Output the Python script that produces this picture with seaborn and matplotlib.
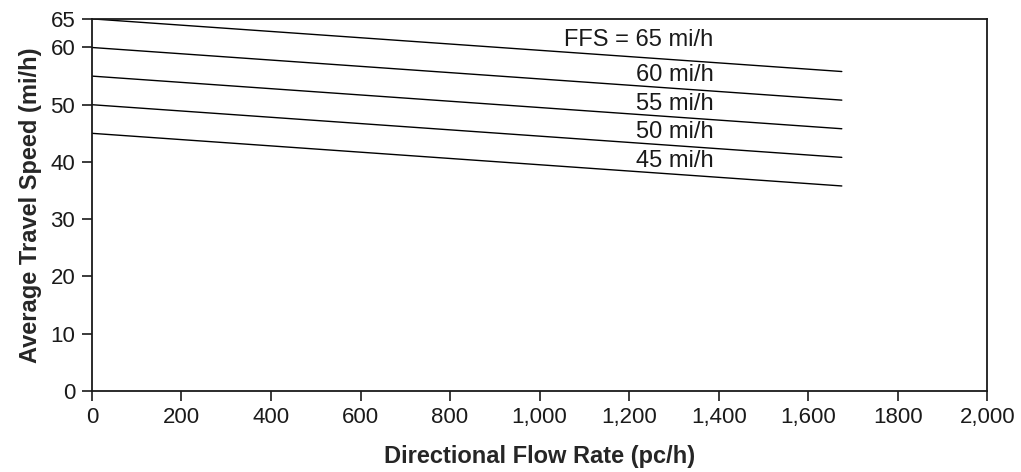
import matplotlib
matplotlib.use("Agg")
import matplotlib.pyplot as plt
import seaborn as sns
import pandas as pd
import numpy as np

# Free-flow speed curves (mi/h): start at flow 0, end at flow ~1675 pc/h
ffs = [65, 60, 55, 50, 45]
flow_pts = [0, 1675]
speed_end = [55.8, 50.8, 45.8, 40.8, 35.8]
labels = ["FFS = 65 mi/h", "60 mi/h", "55 mi/h", "50 mi/h", "45 mi/h"]

xticks = [0, 200, 400, 600, 800, 1000, 1200, 1400, 1600, 1800, 2000]
xtick_labels = ["0", "200", "400", "600", "800", "1,000", "1,200", "1,400",
                "1,600", "1800", "2,000"]
yticks = [0, 10, 20, 30, 40, 50, 60, 65]

rows = []
for f, e in zip(ffs, speed_end):
    rows.append({"ffs": f, "flow": flow_pts[0], "speed": f})
    rows.append({"ffs": f, "flow": flow_pts[1], "speed": e})
df = pd.DataFrame(rows)

sns.set_style("ticks")
plt.rcParams["font.family"] = ["Liberation Sans", "DejaVu Sans"]

fig = plt.figure(figsize=(10.21, 4.72), dpi=100)
ax = fig.add_axes([0.090, 0.172, 0.877, 0.788])

sns.lineplot(data=df, x="flow", y="speed", units="ffs", estimator=None,
             color="black", linewidth=1.0, ax=ax)

# curve labels, sitting just above each line
lab_x = 1388
for f, e, t in zip(ffs, speed_end, labels):
    y_line = np.interp(lab_x, flow_pts, [f, e])
    off = 3.9 if t.startswith("FFS") else 2.8
    ax.text(lab_x, y_line + off, t, ha="right", va="center", fontsize=17,
            color="#1a1a1a")

ax.set_xlim(0, 2000)
ax.set_ylim(0, 65)
ax.set_xticks(xticks)
ax.set_xticklabels(xtick_labels)
ax.set_yticks(yticks)
ax.tick_params(labelsize=16, length=7, width=1.2, colors="#1a1a1a", pad=5)
for s in ax.spines.values():
    s.set_linewidth(1.3)
    s.set_color("#1a1a1a")

ax.set_xlabel("Directional Flow Rate (pc/h)", fontsize=17, fontweight="bold",
              labelpad=12)
ax.set_ylabel("Average Travel Speed (mi/h)", fontsize=17, fontweight="bold",
              labelpad=6)

fig.savefig("out.png", dpi=100)
